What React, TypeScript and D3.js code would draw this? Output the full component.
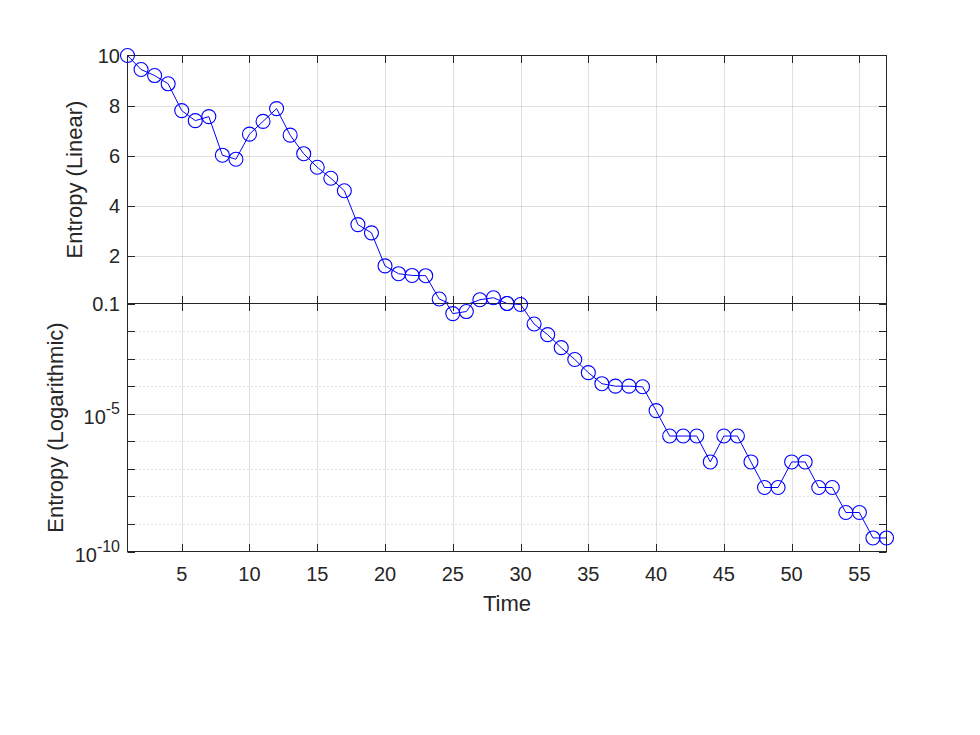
import React from "react";
import * as d3 from "d3";

const times: number[] = Array.from({ length: 57 }, (_, i) => i + 1);
const entropy: number[] = [
  10.0, 9.44, 9.2, 8.87, 7.8, 7.4, 7.56, 6.02, 5.86, 6.86,
  7.37, 7.88, 6.82, 6.08, 5.54, 5.1, 4.6, 3.25, 2.92, 1.6,
  1.29, 1.22, 1.21, 0.28, 4.3e-2, 5.1e-2, 0.25, 0.33, 0.1, 9.2e-2,
  1.8e-2, 7.4e-3, 2.5e-3, 9.3e-4, 3.1e-4, 1.23e-4, 1.0e-4, 1.0e-4, 9.5e-5, 1.3e-5,
  1.55e-6, 1.55e-6, 1.55e-6, 1.78e-7, 1.55e-6, 1.55e-6, 1.78e-7, 2.1e-8, 2.1e-8, 1.78e-7,
  1.78e-7, 2.1e-8, 2.1e-8, 2.6e-9, 2.6e-9, 3.1e-10, 3.1e-10,
];
const xTicks: number[] = [5, 10, 15, 20, 25, 30, 35, 40, 45, 50, 55];
const linTicks: number[] = [2, 4, 6, 8];
const linTickLabels: { v: number; t: string }[] = [
  { v: 10, t: "10" }, { v: 8, t: "8" }, { v: 6, t: "6" }, { v: 4, t: "4" }, { v: 2, t: "2" }, { v: 0.1, t: "0.1" },
];
const logDecades: number[] = [1e-10, 1e-9, 1e-8, 1e-7, 1e-6, 1e-5, 1e-4, 1e-3, 1e-2, 1e-1];
const logMinorGrid: number[] = [1e-9, 1e-8, 1e-7, 1e-6, 1e-4, 1e-3, 1e-2];
const logMajorGrid: number[] = [1e-5];
const logTickLabels: { v: number; exp: string }[] = [
  { v: 1e-5, exp: "-5" }, { v: 1e-10, exp: "-10" },
];

const L = 127.5, R = 886.5, T = 55.5, M = 303.5, B = 551.5;
const FONT = "'Liberation Sans', Arial, Helvetica, sans-serif";
const AX = "#262626";
const BLUE = "#0000ff";
const TL = 7.5;

export default function App() {
  const x = d3.scaleLinear().domain([1, 57]).range([L, R]);
  const yLin = d3.scaleLinear().domain([0.1, 10]).range([M, T]);
  const yLog = d3.scaleLog().domain([1e-10, 1e-1]).range([B, M]);
  const data = times.map((t, i) => ({ t, v: entropy[i] }));

  const lineLin = d3.line<{ t: number; v: number }>().x(d => x(d.t)).y(d => yLin(d.v));
  const lineLog = d3.line<{ t: number; v: number }>().x(d => x(d.t)).y(d => yLog(d.v));

  const topPts = data.filter(d => d.v >= 0.1 - 1e-12 && d.v <= 10 + 1e-12);
  const botPts = data.filter(d => d.v >= 1e-10 && d.v <= 0.1 + 1e-12);

  return (
    <svg width={980} height={735} style={{ position: "absolute", left: 0, top: 0, background: "#fff" }}>
      <defs>
        <clipPath id="clipTop"><rect x={L} y={T} width={R - L} height={M - T} /></clipPath>
        <clipPath id="clipBot"><rect x={L} y={M} width={R - L} height={B - M} /></clipPath>
      </defs>
      <rect x={0} y={0} width={980} height={735} fill="#fff" />

      <g stroke={AX} strokeOpacity={0.15} strokeWidth={1}>
        {xTicks.map(t => (
          <line key={"gxt" + t} x1={Math.round(x(t)) + 0.5} x2={Math.round(x(t)) + 0.5} y1={T} y2={M} />
        ))}
        {linTicks.map(v => (
          <line key={"gyt" + v} x1={L} x2={R} y1={Math.round(yLin(v)) + 0.5} y2={Math.round(yLin(v)) + 0.5} />
        ))}
        {xTicks.map(t => (
          <line key={"gxb" + t} x1={Math.round(x(t)) + 0.5} x2={Math.round(x(t)) + 0.5} y1={M} y2={B} />
        ))}
        {logMajorGrid.map(v => (
          <line key={"gyb" + v} x1={L} x2={R} y1={Math.round(yLog(v)) + 0.5} y2={Math.round(yLog(v)) + 0.5} />
        ))}
      </g>
      <g stroke={AX} strokeOpacity={0.25} strokeWidth={1} strokeDasharray="1,3">
        {logMinorGrid.map(v => (
          <line key={"gmb" + v} x1={L} x2={R} y1={Math.round(yLog(v)) + 0.5} y2={Math.round(yLog(v)) + 0.5} />
        ))}
      </g>

      <path d={lineLin(data) || ""} fill="none" stroke={BLUE} strokeWidth={1} clipPath="url(#clipTop)" />
      <path d={lineLog(data) || ""} fill="none" stroke={BLUE} strokeWidth={1} clipPath="url(#clipBot)" />

      <g stroke={AX} strokeWidth={1} fill="none">
        <rect x={L} y={T} width={R - L} height={M - T} />
        <rect x={L} y={M} width={R - L} height={B - M} />
        {xTicks.map(t => {
          const xx = Math.round(x(t)) + 0.5;
          return (
            <g key={"xt" + t}>
              <line x1={xx} x2={xx} y1={T} y2={T + TL} />
              <line x1={xx} x2={xx} y1={M} y2={M - TL} />
              <line x1={xx} x2={xx} y1={M} y2={M + TL} />
              <line x1={xx} x2={xx} y1={B} y2={B - TL} />
            </g>
          );
        })}
        {linTicks.map(v => {
          const yy = Math.round(yLin(v)) + 0.5;
          return (
            <g key={"yt" + v}>
              <line x1={L} x2={L + TL} y1={yy} y2={yy} />
              <line x1={R} x2={R - TL} y1={yy} y2={yy} />
            </g>
          );
        })}
        {logDecades.map(v => {
          const yy = Math.round(yLog(v)) + 0.5;
          return (
            <g key={"ylt" + v}>
              <line x1={L} x2={L + TL} y1={yy} y2={yy} />
              <line x1={R} x2={R - TL} y1={yy} y2={yy} />
            </g>
          );
        })}
      </g>

      <g fill="none" stroke={BLUE} strokeWidth={1.1}>
        {topPts.map(d => (
          <circle key={"mt" + d.t} cx={x(d.t)} cy={yLin(d.v)} r={7} />
        ))}
        {botPts.map(d => (
          <circle key={"mb" + d.t} cx={x(d.t)} cy={yLog(d.v)} r={7} />
        ))}
      </g>

      <g fontFamily={FONT} fontSize={20} fill={AX}>
        {xTicks.map(t => (
          <text key={"xl" + t} x={x(t)} y={581} textAnchor="middle">{t}</text>
        ))}
        {linTickLabels.map(d => (
          <text key={"yl" + d.v} x={120} y={yLin(d.v) + 7} textAnchor="end">{d.t}</text>
        ))}
        {logTickLabels.map(d => (
          <text key={"ll" + d.v} x={120} y={yLog(d.v) + 10} textAnchor="end">
            10<tspan fontSize={16} dy={-10}>{d.exp}</tspan>
          </text>
        ))}
      </g>

      <g fontFamily={FONT} fontSize={22} fill={AX}>
        <text x={(L + R) / 2} y={611} textAnchor="middle">Time</text>
        <text transform={`translate(82,${(T + M) / 2}) rotate(-90)`} textAnchor="middle">Entropy (Linear)</text>
        <text transform={`translate(63,${(M + B) / 2}) rotate(-90)`} textAnchor="middle">Entropy (Logarithmic)</text>
      </g>
    </svg>
  );
}
